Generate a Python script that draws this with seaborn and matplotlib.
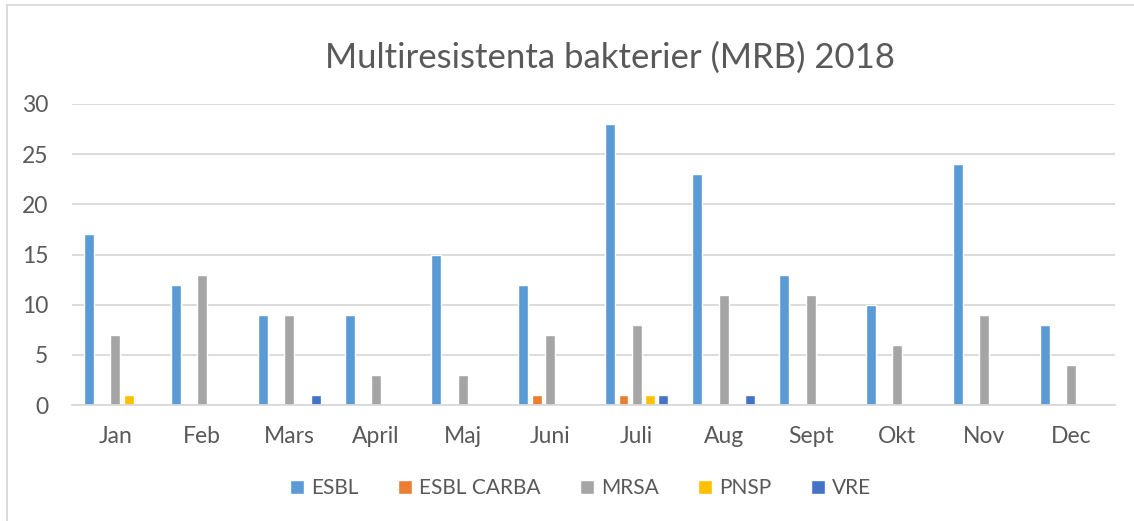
import matplotlib
matplotlib.use("Agg")
import matplotlib.pyplot as plt
import seaborn as sns
import pandas as pd
from matplotlib.patches import Rectangle

months = ["Jan", "Feb", "Mars", "April", "Maj", "Juni", "Juli", "Aug", "Sept", "Okt", "Nov", "Dec"]
series = ["ESBL", "ESBL CARBA", "MRSA", "PNSP", "VRE"]
esbl = [17, 12, 9, 9, 15, 12, 28, 23, 13, 10, 24, 8]
esbl_carba = [0, 0, 0, 0, 0, 1, 1, 0, 0, 0, 0, 0]
mrsa = [7, 13, 9, 3, 3, 7, 8, 11, 11, 6, 9, 4]
pnsp = [1, 0, 0, 0, 0, 0, 1, 0, 0, 0, 0, 0]
vre = [0, 0, 1, 0, 0, 0, 1, 1, 0, 0, 0, 0]
colors = ["#5B9BD5", "#ED7D31", "#A5A5A5", "#FFC000", "#4472C4"]

rows = []
for name, vals in zip(series, [esbl, esbl_carba, mrsa, pnsp, vre]):
    for m, v in zip(months, vals):
        rows.append({"month": m, "serie": name, "antal": v})
df = pd.DataFrame(rows)

sns.set_style("white")
plt.rcParams["font.family"] = ["Lato", "DejaVu Sans"]
text_col = "#595959"

fig = plt.figure(figsize=(11.34, 5.21), dpi=100)
ax = fig.add_axes([0.0635, 0.2226, 0.9195, 0.5778])

sns.barplot(data=df, x="month", y="antal", hue="serie", order=months, hue_order=series,
            palette=colors, saturation=1, width=0.766, gap=0.25, ax=ax, legend=True)

ax.set_ylim(0, 30)
ax.set_xlim(-0.5, 11.5)
ax.set_yticks(range(0, 31, 5))
ax.yaxis.grid(True, color="#D9D9D9", linewidth=1.3)
ax.set_axisbelow(True)
for s in ["top", "right", "left"]:
    ax.spines[s].set_visible(False)
ax.spines["bottom"].set_color("#D9D9D9")
ax.spines["bottom"].set_linewidth(1.3)
ax.tick_params(axis="both", length=0, labelsize=16.5, colors=text_col)
ax.tick_params(axis="y", pad=17)
ax.tick_params(axis="x", pad=15)
ax.set_xlabel("")
ax.set_ylabel("")

fig.suptitle("Multiresistenta bakterier (MRB) 2018", x=0.538, y=0.92, fontsize=25, color=text_col)

handles, labels = ax.get_legend_handles_labels()
ax.get_legend().remove()
fig.legend(handles, labels, loc="center", bbox_to_anchor=(0.512, 0.063), ncol=5, frameon=False,
           fontsize=15, labelcolor=text_col, handlelength=0.65, handleheight=0.65,
           handletextpad=0.35, columnspacing=1.9)

# chart frame
fig.add_artist(Rectangle((7 / 1134, -0.1), 1.2, 1 - 5 / 521 + 0.1, transform=fig.transFigure,
                         fill=False, edgecolor="#D9D9D9", linewidth=1.3))

fig.savefig("out.png", dpi=100)
